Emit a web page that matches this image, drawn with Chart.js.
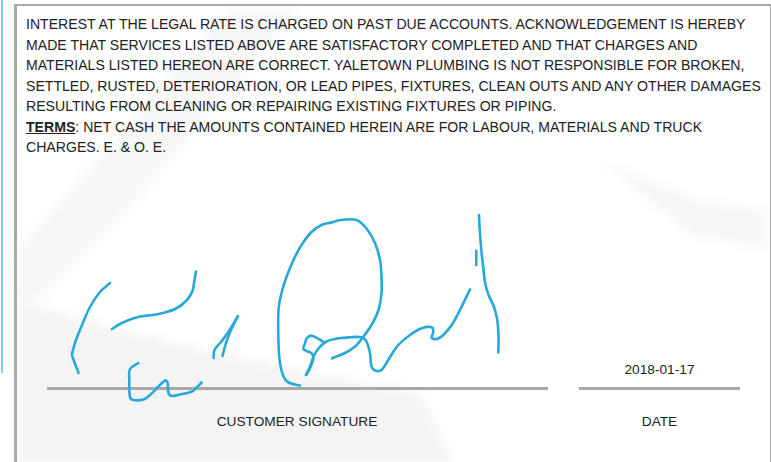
<!DOCTYPE html>
<html>
<head>
<meta charset="utf-8">
<script src="https://cdn.jsdelivr.net/npm/chart.js@4"></script>
<style>
  html, body { margin: 0; padding: 0; }
  body { width: 771px; height: 462px; position: relative; overflow: hidden; background: #fff;
         font-family: "Liberation Sans", Arial, sans-serif; color: #222; }
  .soft { position: absolute; left: 0; top: 0; width: 771px; height: 462px; filter: blur(5px); }
  .shade { position: absolute; left: 0; top: 0; width: 771px; height: 462px; }
  .sideline { position: absolute; left: 1px; top: 0; width: 2px; height: 373px; background: #7fd0f2; }
  .box { position: absolute; left: 14px; top: 4px; width: 753px; height: 470px;
         border: 2px solid #a9a9ab; border-left-width: 3px; border-bottom: none; }
  .terms { position: absolute; left: 26px; top: 14px; width: 740px; font-size: 14.1px; line-height: 20.55px; white-space: nowrap; }
  .terms b { text-decoration: underline; }
  .rule { position: absolute; height: 3px; background: #a8a8a8; }
  .lbl { position: absolute; font-size: 13.7px; text-align: center; }
  #sig { position: absolute; left: 0; top: 0; }
</style>
</head>
<body>
<div class="soft">
  <div class="shade" style="background:#f4f4f4; clip-path: polygon(17px 300px, 120px 330px, 300px 372px, 420px 392px, 458px 470px, 17px 470px);"></div>
  <div class="shade" style="background:#f7f7f7; clip-path: polygon(230px 8px, 300px 8px, 110px 230px, 40px 300px, 17px 300px, 17px 250px);"></div>
  <div class="shade" style="background:#f7f7f7; clip-path: polygon(600px 160px, 700px 200px, 768px 210px, 768px 250px, 690px 235px);"></div>
</div>
<div class="sideline"></div>
<div class="box"></div>
<div class="terms">INTEREST AT THE LEGAL RATE IS CHARGED ON PAST DUE ACCOUNTS. ACKNOWLEDGEMENT IS HEREBY<br>MADE THAT SERVICES LISTED ABOVE ARE SATISFACTORY COMPLETED AND THAT CHARGES AND<br>MATERIALS LISTED HEREON ARE CORRECT. YALETOWN PLUMBING IS NOT RESPONSIBLE FOR BROKEN,<br>SETTLED, RUSTED, DETERIORATION, OR LEAD PIPES, FIXTURES, CLEAN OUTS AND ANY OTHER DAMAGES<br>RESULTING FROM CLEANING OR REPAIRING EXISTING FIXTURES OR PIPING.<br><b>TERMS</b>: NET CASH THE AMOUNTS CONTAINED HEREIN ARE FOR LABOUR, MATERIALS AND TRUCK<br>CHARGES. E. &amp; O. E.</div>
<div class="rule" style="left:47px; top:386.5px; width:501px;"></div>
<div class="rule" style="left:579px; top:386.5px; width:161px;"></div>
<div class="lbl" style="left:579px; top:361.5px; width:161px;">2018-01-17</div>
<div class="lbl" style="left:147px; top:413.5px; width:300px;">CUSTOMER SIGNATURE</div>
<div class="lbl" style="left:579px; top:413.5px; width:161px;">DATE</div>
<canvas id="sig" width="771" height="462"></canvas>
<script>
// signature strokes in page units (x right, y down)
const strokeArc = [[110,283],[100,292],[90,307],[82,325],[76,340],[73,350],[72,355],[74,361],[78.5,373]];
const strokeTop = [[112,329],[120,324],[130,319.5],[140,316.5],[153,315],[165,312.5],[177,308],[187,300],[192.5,291],[194,283],[196,271.5]];
const strokeBase = [[138.5,363],[130,369],[129.3,380],[130,397],[133.5,400],[143.5,399.5],[150,395],[157,388],[165,380.5],[167.5,382],[168.5,393],[172,396],[182,394],[192,391.5],[197,387],[201.5,382.5]];
const strokeTickA = [[213.5,358],[214.5,350],[221,342],[229,331],[238,316]];
const strokeTickB = [[237,318],[231,330],[226,343],[222.5,356]];
const strokeLoop = [[300,385.5],[288.5,382.5],[283.5,376.5],[280,363],[278.5,343],[278.5,310],[281.5,293],[286.5,277],[293.5,260],[301.5,245],[311.5,232],[321.5,225],[331.5,222.5],[340,220],[356.5,220],[366.5,228.5],[375,243],[380,260],[381.5,277],[381.5,293],[378.5,310],[371.5,325],[363.5,336.5],[355,346.5],[345,353],[332,358.3]];
const strokeFlag = [[323.3,341.7],[311.7,335.7],[306.7,338.3],[305,343.3],[303.3,349],[306.7,351],[311.7,353.3],[313.3,358.3],[310,368.3],[306,375]];
const strokeTail = [[306,375],[310,366.5],[313.5,356.5],[318.5,348.5],[326.5,341.5],[338.5,338.3],[350,337.3],[361.5,337.3],[366.5,341.5],[370,353.3],[371.5,366.5],[375,370.5],[381.5,370],[390,357],[398.3,345],[410,335],[421.7,328.3],[431.7,327.3],[433.3,331.7],[431.7,337.7],[436.7,339],[443.3,335],[451.7,325],[460,310],[470,289.3]];
const strokeStem = [[479,215],[479.6,228],[481.3,250],[483.3,268],[485.5,285],[489,296],[494,307],[497.3,320],[498.5,336],[498.3,352.5]];
const strokeDash = [[476.3,250.7],[476.3,265]];

const strokes = [strokeArc, strokeTop, strokeBase, strokeTickA, strokeTickB, strokeLoop, strokeFlag, strokeTail, strokeStem, strokeDash];
const inkColor = '#27a8da';

new Chart(document.getElementById('sig').getContext('2d'), {
    type: 'scatter',
    data: {
        datasets: strokes.map(s => ({
            data: s.map(p => ({ x: p[0], y: p[1] })),
            showLine: true,
            borderColor: inkColor,
            borderWidth: 2.6,
            pointRadius: 0,
            tension: 0.35,
            borderCapStyle: 'round',
            borderJoinStyle: 'round'
        }))
    },
    options: {
        responsive: false,
        animation: false,
        layout: { padding: 0 },
        plugins: { legend: { display: false }, tooltip: { enabled: false } },
        scales: {
            x: { type: 'linear', min: 0, max: 771, display: false },
            y: { type: 'linear', min: 0, max: 462, reverse: true, display: false }
        }
    }
});
</script>
</body>
</html>
